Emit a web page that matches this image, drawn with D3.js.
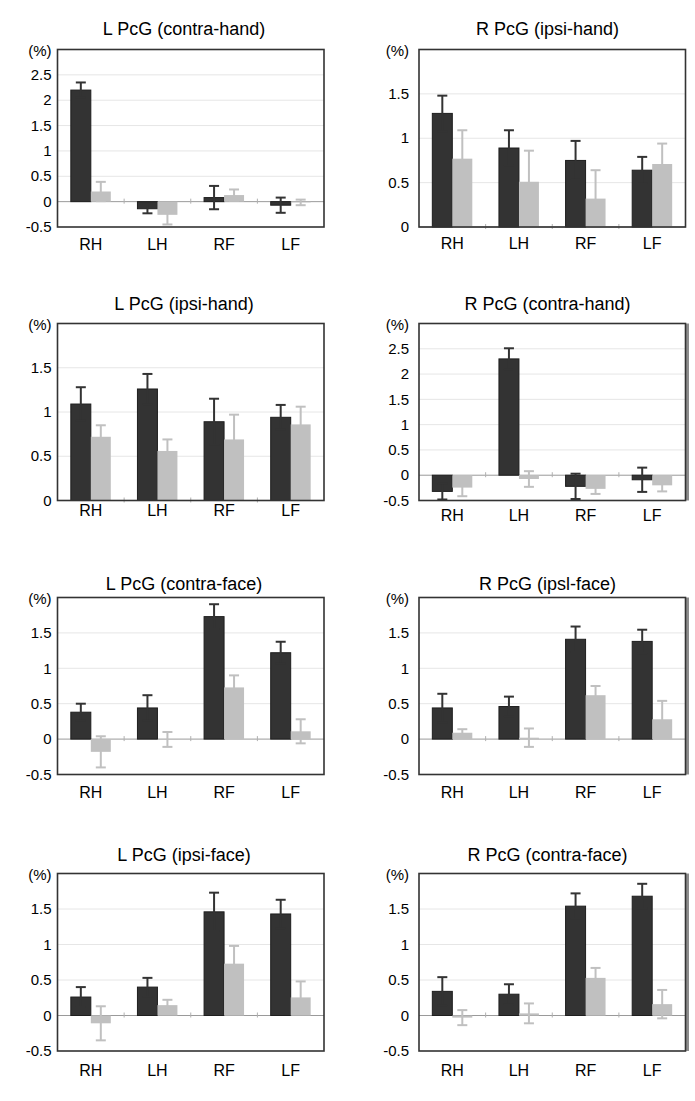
<!DOCTYPE html>
<html>
<head>
<meta charset="utf-8">
<script src="https://cdn.jsdelivr.net/npm/d3@7"></script>
<style>
  html, body { margin: 0; padding: 0; background: #fff; }
  svg { display: block; }
  text { font-family: "Liberation Sans", Arial, Helvetica, sans-serif; fill: #000; }
</style>
</head>
<body>
<svg id="chart" width="695" height="1101"></svg>
<script>
// ---------- DATA ----------
const categories = ["RH", "LH", "RF", "LF"];
const titles = [
  "L PcG (contra-hand)", "R PcG (ipsi-hand)",
  "L PcG (ipsi-hand)", "R PcG (contra-hand)",
  "L PcG (contra-face)", "R PcG (ipsl-face)",
  "L PcG (ipsi-face)", "R PcG (contra-face)"
];
const darkMeans = [
  [2.20, -0.14, 0.08, -0.07],
  [1.28, 0.89, 0.75, 0.64],
  [1.09, 1.26, 0.89, 0.94],
  [-0.32, 2.30, -0.22, -0.09],
  [0.38, 0.44, 1.73, 1.22],
  [0.44, 0.46, 1.41, 1.38],
  [0.26, 0.40, 1.46, 1.43],
  [0.34, 0.30, 1.54, 1.68]
];
const darkErrs = [
  [0.15, 0.09, 0.23, 0.15],
  [0.20, 0.20, 0.22, 0.15],
  [0.19, 0.17, 0.26, 0.14],
  [0.16, 0.21, 0.25, 0.24],
  [0.12, 0.18, 0.175, 0.155],
  [0.20, 0.14, 0.18, 0.165],
  [0.14, 0.13, 0.27, 0.20],
  [0.20, 0.14, 0.18, 0.175]
];
const lightMeans = [
  [0.20, -0.26, 0.13, -0.015],
  [0.77, 0.51, 0.32, 0.71],
  [0.72, 0.56, 0.69, 0.86],
  [-0.245, -0.075, -0.27, -0.20],
  [-0.18, -0.005, 0.73, 0.11],
  [0.09, 0.02, 0.62, 0.28],
  [-0.11, 0.146, 0.73, 0.255],
  [-0.03, 0.03, 0.53, 0.16]
];
const lightErrs = [
  [0.19, 0.19, 0.11, 0.055],
  [0.32, 0.35, 0.32, 0.23],
  [0.13, 0.13, 0.28, 0.20],
  [0.17, 0.155, 0.10, 0.12],
  [0.22, 0.105, 0.17, 0.17],
  [0.05, 0.13, 0.13, 0.26],
  [0.24, 0.075, 0.25, 0.225],
  [0.106, 0.14, 0.14, 0.20]
];
const yDomains = [
  [-0.5, 3], [0, 2], [0, 2], [-0.5, 3],
  [-0.5, 2], [-0.5, 2], [-0.5, 2], [-0.5, 2]
];
const ticksWide = [-0.5, 0, 0.5, 1, 1.5, 2, 2.5];
const ticksPos = [0, 0.5, 1, 1.5];
const ticksFace = [-0.5, 0, 0.5, 1, 1.5];
const panelTicks = [ticksWide, ticksPos, ticksPos, ticksWide, ticksFace, ticksFace, ticksFace, ticksFace];
const unitLabel = "(%)";

// ---------- LAYOUT ----------
const colLeft = [57.5, 419];
const colRight = [324, 685.5];
const rowTop = [49.5, 323.5, 597.5, 873.5];
const rowBottom = [227, 500.5, 774.5, 1051];
const titleX = [184, 547.5];
const titleCY = [29, 303.5, 583.5, 855];
const catCY = [[244.5, 243.5], [510, 515], [792, 792], [1069.7, 1069.7]];
const tickGap = [6, 10];

const DARK = "#333333";
const LIGHT = "#c0c0c0";

const svg = d3.select("#chart");

titles.forEach((title, i) => {
  const col = i % 2, row = Math.floor(i / 2);
  const x0 = colLeft[col], x1 = colRight[col];
  const y0 = rowTop[row], y1 = rowBottom[row];
  const g = svg.append("g");

  const x = d3.scaleBand().domain(categories).range([x0, x1]).padding(0);
  const bw = x.bandwidth() * 0.3;
  const y = d3.scaleLinear().domain(yDomains[i]).range([y1, y0]);
  const ticks = panelTicks[i];

  // gridlines
  g.selectAll(".grid").data(ticks.filter(t => t !== 0 && t !== yDomains[i][0]))
    .enter().append("line")
    .attr("x1", x0).attr("x2", x1)
    .attr("y1", d => y(d)).attr("y2", d => y(d))
    .attr("stroke", "#e6e6e6").attr("stroke-width", 1);

  // zero line
  g.append("line")
    .attr("x1", x0).attr("x2", x1)
    .attr("y1", y(0)).attr("y2", y(0))
    .attr("stroke", "#9a9a9a").attr("stroke-width", 1);

  // category boundary tick marks
  g.selectAll(".ctick").data(categories.slice(1))
    .enter().append("line")
    .attr("x1", d => x(d)).attr("x2", d => x(d))
    .attr("y1", y(0) - 3).attr("y2", y(0) + 2)
    .attr("stroke", "#b0b0b0").attr("stroke-width", 1);

  // bars
  const series = [
    { means: darkMeans[i], errs: darkErrs[i], color: DARK, off: 0, stroke: "#1e1e1e" },
    { means: lightMeans[i], errs: lightErrs[i], color: LIGHT, off: 1, stroke: "none" }
  ];
  series.forEach(s => {
    const data = categories.map((c, k) => ({ c, v: s.means[k], e: s.errs[k] }));
    const bx = d => x(d.c) + x.bandwidth() * 0.2 + s.off * bw;
    g.selectAll(null).data(data).enter().append("rect")
      .attr("x", bx)
      .attr("width", bw)
      .attr("y", d => Math.min(y(d.v), y(0)))
      .attr("height", d => Math.abs(y(d.v) - y(0)))
      .attr("fill", s.color)
      .attr("stroke", s.stroke).attr("stroke-width", 1);
    // error bars
    const cx = d => bx(d) + bw / 2;
    const cap = 5;
    const eg = g.selectAll(null).data(data).enter().append("g");
    eg.append("line")
      .attr("x1", cx).attr("x2", cx)
      .attr("y1", d => y(d.v + d.e)).attr("y2", d => y(d.v - d.e))
      .attr("stroke", s.color).attr("stroke-width", 2);
    eg.append("line")
      .attr("x1", d => cx(d) - cap).attr("x2", d => cx(d) + cap)
      .attr("y1", d => y(d.v + d.e)).attr("y2", d => y(d.v + d.e))
      .attr("stroke", s.color).attr("stroke-width", 2);
    eg.append("line")
      .attr("x1", d => cx(d) - cap).attr("x2", d => cx(d) + cap)
      .attr("y1", d => y(d.v - d.e)).attr("y2", d => y(d.v - d.e))
      .attr("stroke", s.color).attr("stroke-width", 2);
  });

  // frame
  if (col === 1 && row > 0) {
    g.append("line")
      .attr("x1", x1 + 2).attr("x2", x1 + 2)
      .attr("y1", y0).attr("y2", y1)
      .attr("stroke", "#8c8c8c").attr("stroke-width", 3);
  }
  g.append("rect")
    .attr("x", x0).attr("y", y0)
    .attr("width", x1 - x0).attr("height", y1 - y0)
    .attr("fill", "none").attr("stroke", "#333").attr("stroke-width", 1.6);

  // y tick labels
  g.selectAll(".ylab").data(ticks).enter().append("text")
    .attr("x", x0 - tickGap[col])
    .attr("y", d => y(d) + 5.2)
    .attr("text-anchor", "end")
    .attr("font-size", 15)
    .text(d => String(d));

  // unit label
  g.append("text")
    .attr("x", x0 - tickGap[col])
    .attr("y", y0 + 6.5)
    .attr("text-anchor", "end")
    .attr("font-size", 15)
    .text(unitLabel);

  // category labels
  g.selectAll(".xlab").data(categories).enter().append("text")
    .attr("x", d => x(d) + x.bandwidth() / 2)
    .attr("y", catCY[row][col] + 5.8)
    .attr("text-anchor", "middle")
    .attr("font-size", 16)
    .text(d => d);

  // title
  g.append("text")
    .attr("x", titleX[col])
    .attr("y", titleCY[row] + 6.3)
    .attr("text-anchor", "middle")
    .attr("font-size", 18)
    .text(title);
});
</script>
</body>
</html>
